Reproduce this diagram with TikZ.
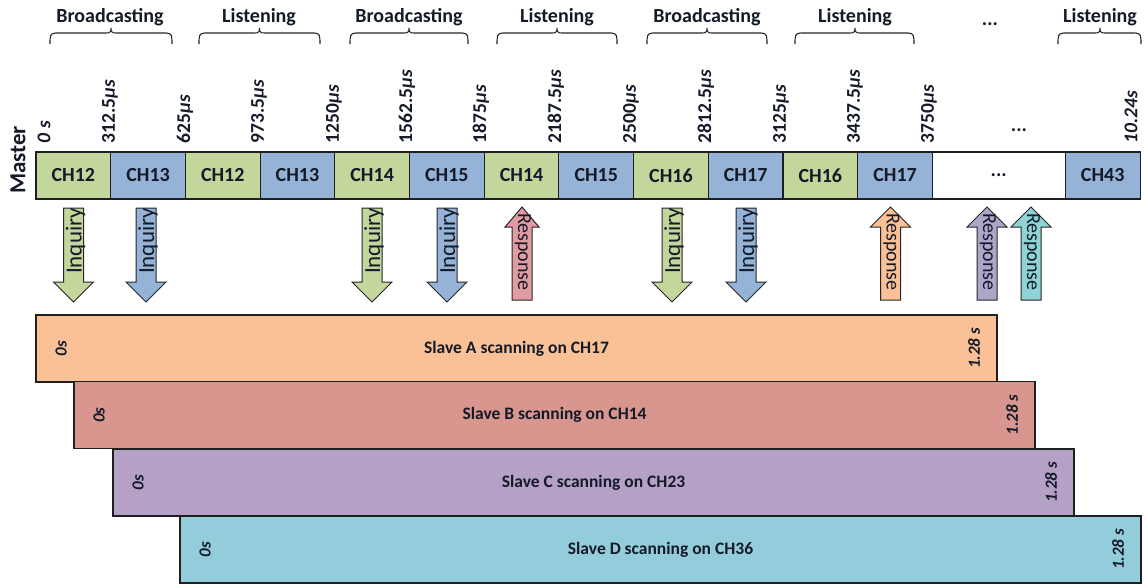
\documentclass[tikz,border=0pt]{standalone}
\usepackage{fontspec}
\setmainfont{Carlito}
\definecolor{chgreen}{HTML}{C3D69B}
\definecolor{chblue}{HTML}{95B3D7}
\definecolor{slorange}{HTML}{F9C195}
\definecolor{slred}{HTML}{D8968E}
\definecolor{slpurple}{HTML}{B5A1C6}
\definecolor{slteal}{HTML}{93CDDC}
\definecolor{rsred}{HTML}{E19CA3}
\definecolor{rspurple}{HTML}{ACA7C9}
\definecolor{rsteal}{HTML}{8FD3D6}
\definecolor{inkdark}{HTML}{141A28}
\begin{document}
\begin{tikzpicture}[x=1pt,y=-1pt,
  every node/.style={inner sep=0pt, outer sep=0pt, text=inkdark},
  outline/.style={draw=black!88, line width=1.1pt},
  cell/.style={outline, minimum width=74.7pt, minimum height=47pt,
    font=\fontsize{20}{24}\selectfont\bfseries},
  phase/.style={font=\fontsize{20}{24}\selectfont\bfseries},
  stamp/.style={rotate=90, anchor=west, font=\fontsize{19.5}{24}\selectfont\bfseries},
  grp/.style={line width=1.1pt, draw=black!85},
  blockarrow/.style={draw=black!85, line width=1pt},
  arrowtext/.style={rotate=90, font=\fontsize{19}{22}\selectfont},
  slavebar/.style={outline, minimum width=961pt, minimum height=67pt,
    font=\fontsize{17.5}{21}\selectfont\bfseries},
  edgetime/.style={rotate=90, font=\fontsize{17}{20}\selectfont\bfseries\itshape}
]
\useasboundingbox (0,0) rectangle (1146,587);

% phase labels
\node[phase] (p1) at (110,17) {Broadcasting};
\node[phase] (p2) at (259,17) {Listening};
\node[phase] (p3) at (409,17) {Broadcasting};
\node[phase] (p4) at (557,17) {Listening};
\node[phase] (p5) at (707,17) {Broadcasting};
\node[phase] (p6) at (855,17) {Listening};
\node[phase] (p7) at (990,24) {...};
\node[phase] (p8) at (1100,17) {Listening};

% braces grouping two slots each
\foreach \a/\b/\m in {50/172/111, 199/320/259.5, 350/468/409, 497/617/557,
  647/767/707, 795/914/855, 1058/1141/1100} {
  \draw[grp] (\a,44) .. controls (\a,36) and (\a,33) .. (\a+6,33) -- (\m-5,33)
    .. controls (\m-1,33) and (\m,32) .. (\m,28)
    .. controls (\m,32) and (\m+1,33) .. (\m+5,33) -- (\b-6,33)
    .. controls (\b,33) and (\b,36) .. (\b,44);
}

% time stamps above the master slots
\node[stamp] (t0) at (44,143) {\itshape 0 s};
\node[stamp] (t1) at (110,143) {312.5{\itshape µs}};
\node[stamp] (t2) at (185,143) {625{\itshape µs}};
\node[stamp] (t3) at (259,143) {973.5{\itshape µs}};
\node[stamp] (t4) at (334,143) {1250{\itshape µs}};
\node[stamp] (t5) at (407,143) {1562.5{\itshape µs}};
\node[stamp] (t6) at (481,143) {1875{\itshape µs}};
\node[stamp] (t7) at (556,143) {2187.5{\itshape µs}};
\node[stamp] (t8) at (631,143) {2500{\itshape µs}};
\node[stamp] (t9) at (706,143) {2812.5{\itshape µs}};
\node[stamp] (t10) at (781,143) {3125{\itshape µs}};
\node[stamp] (t11) at (855,143) {3437.5{\itshape µs}};
\node[stamp] (t12) at (929,143) {3750{\itshape µs}};
\node[phase] (tdots) at (1019,130) {...};
\node[stamp] (t13) at (1131,143) {\itshape 10.24s};

% master channel slots
\node[rotate=90, font=\fontsize{23}{26}\selectfont\bfseries] (master) at (18,160) {Master};
\foreach \i/\lbl/\col in {1/CH12/chgreen, 2/CH13/chblue, 3/CH12/chgreen, 4/CH13/chblue,
  5/CH14/chgreen, 6/CH15/chblue, 7/CH14/chgreen, 8/CH15/chblue,
  9/CH16/chgreen, 10/CH17/chblue, 11/CH16/chgreen, 12/CH17/chblue}
  \node[cell, fill=\col] (m\i) at ({36+74.7*(\i-0.5)},175.5) {\lbl};
\node[cell, fill=white, minimum width=133pt] (mdots) at (998.7,175.5) {...};
\node[cell, fill=chblue, minimum width=75pt] (m43) at (1102.7,175.5) {CH43};

% inquiry arrows (down)
\foreach \x/\c [count=\k] in {73.5/chgreen, 146/chblue, 372/chgreen, 447/chblue, 672/chgreen, 746/chblue} {
  \draw[blockarrow, fill=\c] (\x-10,208) -- (\x+10,208) -- (\x+10,282) -- (\x+20,282)
    -- (\x,302) -- (\x-20,282) -- (\x-10,282) -- cycle;
  \node[arrowtext, anchor=east, font=\fontsize{23}{26}\selectfont] (inq\k) at (\x+2,208) {Inquiry};
}

% response arrows (up)
\foreach \x/\c/\hw [count=\k] in {522/rsred/17, 890.5/slorange/20, 987/rspurple/20, 1031/rsteal/20} {
  \draw[blockarrow, fill=\c] (\x-10,300) -- (\x+10,300) -- (\x+10,227) -- (\x+\hw,227)
    -- (\x,207) -- (\x-\hw,227) -- (\x-10,227) -- cycle;
  \node[arrowtext, rotate=180, anchor=west, font=\fontsize{20}{24}\selectfont] (rsp\k) at (\x+1,213) {Response};
}

% slave scanning windows
\node[slavebar, fill=slorange] (sa) at (516.5,348.5) {Slave A scanning on CH17};
\node[slavebar, fill=slred] (sb) at (554.5,415) {Slave B scanning on CH14};
\node[slavebar, fill=slpurple] (sc) at (593.5,482.5) {Slave C scanning on CH23};
\node[slavebar, fill=slteal] (sd) at (660.5,549.5) {Slave D scanning on CH36};
\foreach \s in {sa, sb, sc, sd} {
  \node[edgetime] (\s0) at ([xshift=25pt]\s.west) {0s};
  \node[edgetime] (\s1) at ([xshift=-23pt]\s.east) {1.28 s};
}
\end{tikzpicture}
\end{document}
